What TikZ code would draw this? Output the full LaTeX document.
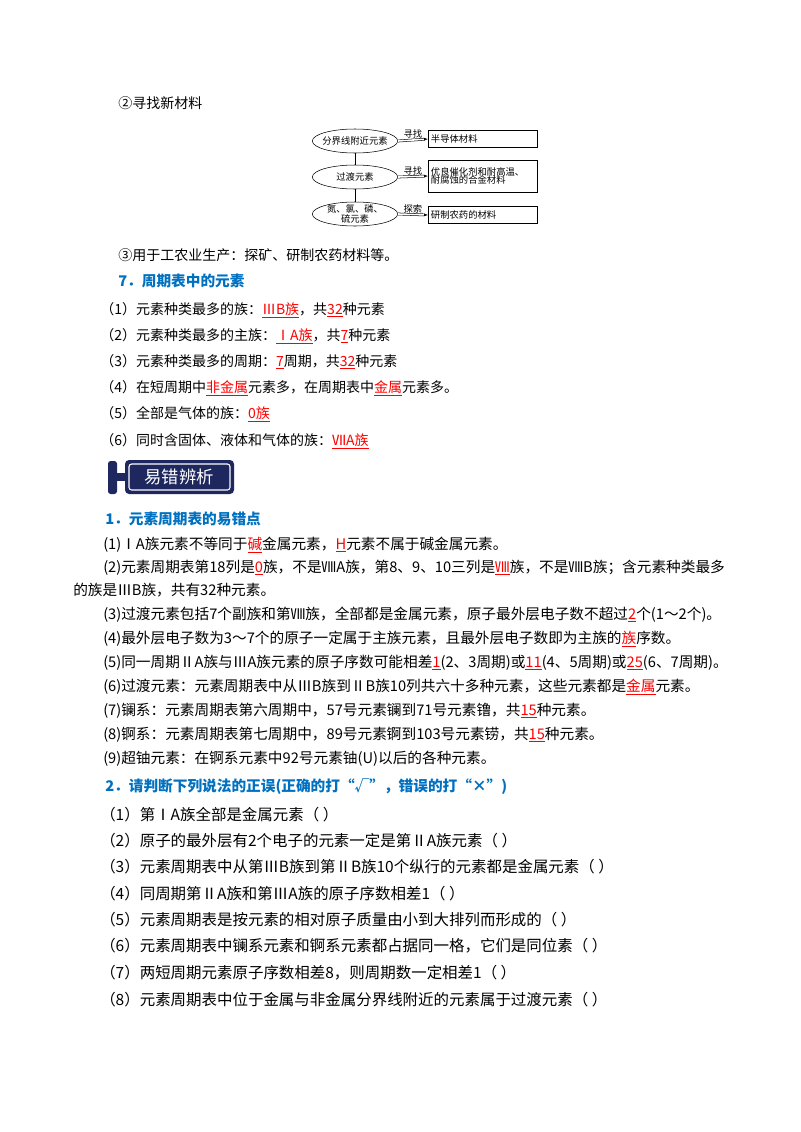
\documentclass[tikz,border=0pt]{standalone}
\usepackage{fontspec}
\setmainfont{Noto Sans CJK SC}
\usetikzlibrary{shapes.geometric,arrows.meta}
\definecolor{hblue}{RGB}{0,112,192}
\definecolor{navy}{RGB}{30,40,95}
\newcommand\rr[1]{\textcolor{red}{\underline{#1}}}
\begin{document}
\begin{tikzpicture}[x=0.75pt,y=-0.75pt,
  tx/.style={anchor=base west,inner sep=0pt,font=\fontsize{10.5pt}{12pt}\selectfont},
  px/.style={tx,font=\fontsize{11pt}{12pt}\selectfont},
  qx/.style={tx,font=\fontsize{11.6pt}{12pt}\selectfont},
  hd/.style={tx,text=hblue,font=\fontsize{11pt}{12pt}\selectfont\bfseries},
  ell/.style={draw,ellipse,minimum width=64pt,minimum height=18pt,inner sep=0pt},
  et/.style={font=\fontsize{7pt}{8pt}\selectfont,align=center,inner sep=0pt},
  bx/.style={draw,rectangle,anchor=west,minimum width=82pt,inner sep=1pt,font=\fontsize{7pt}{8pt}\selectfont,align=left,text width=78pt},
  dbl/.style={double,double distance=1.2pt,-{Latex[length=3pt]}},
  lb/.style={above,inner sep=1pt,font=\fontsize{7pt}{8pt}\selectfont}]
\useasboundingbox (0,0) rectangle (800,1132);
\node[tx] (t1) at (118,108) {②寻找新材料};
% diagram
\node[ell] (e1) at (355,141) {};
\node[et] at (e1) {分界线附近元素};
\node[ell] (e2) at (355,177) {};
\node[et] at (e2) {过渡元素};
\node[ell] (e3) at (355,214) {};
\node[et] at (e3) {氮、氯、磷、\\[-1pt]硫元素};
\draw (e1) -- (e2) (e2) -- (e3);
\node[bx,minimum height=13pt] (b1) at (428,139) {半导体材料};
\node[bx,minimum height=24pt] (b2) at (428,176) {优良催化剂和耐高温、\\[-2pt]耐腐蚀的合金材料};
\node[bx,minimum height=13pt] (b3) at (428,215) {研制农药的材料};
\draw[dbl] (e1.east) -- node[lb]{寻找} (b1.west);
\draw[dbl] (e2.east) -- node[lb]{寻找} (b2.west);
\draw[dbl] (e3.east) -- node[lb]{探索} (b3.west);
\node[tx] (t2) at (118,260) {③用于工农业生产：探矿、研制农药材料等。};
\node[hd] (h7) at (118,286) {7．周期表中的元素};
\node[tx] (a1) at (100,314) {（1）元素种类最多的族：\rr{ⅢB族}，共\rr{32}种元素};
\node[tx] (a2) at (100,340) {（2）元素种类最多的主族：\rr{ⅠA族}，共\rr{7}种元素};
\node[tx] (a3) at (100,366) {（3）元素种类最多的周期：\rr{7}周期，共\rr{32}种元素};
\node[tx] (a4) at (100,392) {（4）在短周期中\rr{非金属}元素多，在周期表中\rr{金属}元素多。};
\node[tx] (a5) at (100,418) {（5）全部是气体的族：\rr{0族}};
\node[tx] (a6) at (100,445) {（6）同时含固体、液体和气体的族：\rr{ⅦA族}};
% banner
\fill[navy,rounded corners=2pt] (108,461) rectangle (117,494);
\fill[navy] (115,473) rectangle (128,481);
\fill[navy,rounded corners=3pt] (125,460) rectangle (234,494);
\draw[white,line width=0.8pt,rounded corners=2pt] (129,464) rectangle (230,490);
\node[font=\fontsize{13pt}{14pt}\selectfont,text=white] (bn) at (179,477) {易错辨析};
\node[hd] (h1) at (105,524) {1．元素周期表的易错点};
\node[px] (p1) at (103,549) {(1)ⅠA族元素不等同于\rr{碱}金属元素，\rr{H}元素不属于碱金属元素。};
\node[px] (p2) at (103,572) {(2)元素周期表第18列是\rr{0}族，不是ⅧA族，第8、9、10三列是\rr{Ⅷ}族，不是ⅧB族；含元素种类最多};
\node[px] (p2b) at (73,595) {的族是ⅢB族，共有32种元素。};
\node[px] (p3) at (103,619) {(3)过渡元素包括7个副族和第Ⅷ族，全部都是金属元素，原子最外层电子数不超过\rr{2}个(1～2个)。};
\node[px] (p4) at (103,643) {(4)最外层电子数为3～7个的原子一定属于主族元素，且最外层电子数即为主族的\rr{族}序数。};
\node[px] (p5) at (103,667) {(5)同一周期ⅡA族与ⅢA族元素的原子序数可能相差\rr{1}(2、3周期)或\rr{11}(4、5周期)或\rr{25}(6、7周期)。};
\node[px] (p6) at (103,691) {(6)过渡元素：元素周期表中从ⅢB族到ⅡB族10列共六十多种元素，这些元素都是\rr{金属}元素。};
\node[px] (p7) at (103,715) {(7)镧系：元素周期表第六周期中，57号元素镧到71号元素镥，共\rr{15}种元素。};
\node[px] (p8) at (103,739) {(8)锕系：元素周期表第七周期中，89号元素锕到103号元素铹，共\rr{15}种元素。};
\node[px] (p9) at (103,763) {(9)超铀元素：在锕系元素中92号元素铀(U)以后的各种元素。};
\node[hd] (h2) at (105,791) {2．请判断下列说法的正误(正确的打“√”，错误的打“×”)};
\node[qx] (q1) at (100,820) {（1）第ⅠA族全部是金属元素（ ）};
\node[qx] (q2) at (100,846) {（2）原子的最外层有2个电子的元素一定是第ⅡA族元素（ ）};
\node[qx] (q3) at (100,872) {（3）元素周期表中从第ⅢB族到第ⅡB族10个纵行的元素都是金属元素（ ）};
\node[qx] (q4) at (100,899) {（4）同周期第ⅡA族和第ⅢA族的原子序数相差1（ ）};
\node[qx] (q5) at (100,925) {（5）元素周期表是按元素的相对原子质量由小到大排列而形成的（ ）};
\node[qx] (q6) at (100,951) {（6）元素周期表中镧系元素和锕系元素都占据同一格，它们是同位素（ ）};
\node[qx] (q7) at (100,978) {（7）两短周期元素原子序数相差8，则周期数一定相差1（ ）};
\node[qx] (q8) at (100,1005) {（8）元素周期表中位于金属与非金属分界线附近的元素属于过渡元素（ ）};
\end{tikzpicture}
\end{document}
